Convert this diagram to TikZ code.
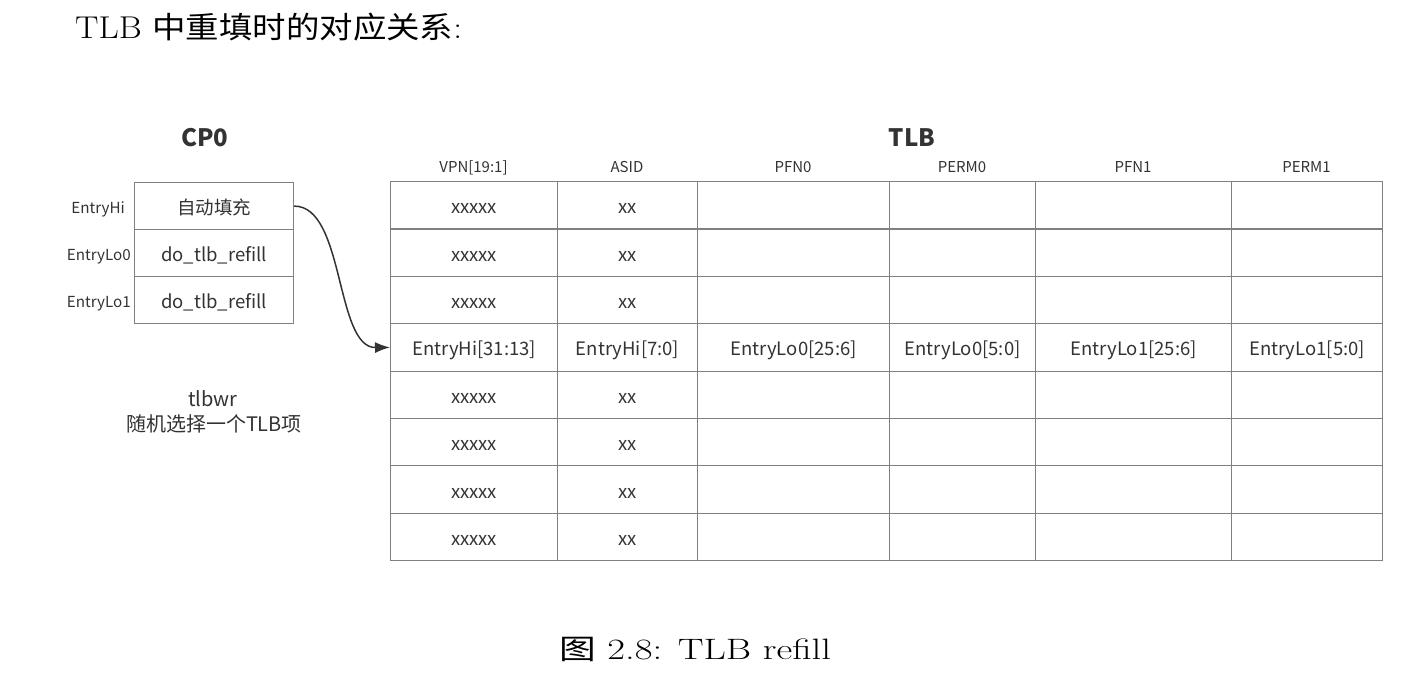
\documentclass[tikz,border=0pt]{standalone}
\usepackage{fontspec}
\usepackage{graphicx}
\usetikzlibrary{arrows.meta}
\newfontfamily\cjk{Noto Sans CJK SC}
\definecolor{ink}{HTML}{333333}
\definecolor{rule}{HTML}{808080}
\tikzset{
  cell/.style={draw=rule, line width=1.2pt, rectangle, inner sep=0pt, anchor=north west},
  celltext/.style={text=ink, font=\cjk\fontsize{18.5}{22}\selectfont, inner sep=0pt,
    anchor=base, yshift=-8.5pt},
  side/.style={text=ink, font=\cjk\fontsize{15.2}{18}\selectfont, inner sep=0pt, anchor=base east},
  head/.style={text=ink, font=\cjk\fontsize{15}{18}\selectfont, inner sep=0pt, anchor=base},
  note/.style={text=ink, font=\cjk\fontsize{20}{24}\selectfont, inner sep=0pt, anchor=base},
  boldlabel/.style={text=ink, font=\cjk\bfseries\fontsize{24}{28}\selectfont, inner sep=0pt, anchor=base},
  serif/.style={text=black, inner sep=0pt},
}
\begin{document}
\begin{tikzpicture}[x=1pt,y=-1pt]
\useasboundingbox (0,0) rectangle (1416,699);

% heading line
\node[serif, anchor=base west] (title) at (75,38)
  {\resizebox{387pt}{\height}{\fontsize{31.5}{36}\selectfont TLB {\cjk\fontsize{30}{36}\selectfont 中重填时的对应关系}:}};

% CP0 registers
\node[boldlabel] (cp0) at (205,146) {CP0};
\node[cell, minimum width=159pt, minimum height=47pt] (c1) at (134,182) {};
\node[cell, minimum width=159pt, minimum height=47pt] (c2) at (134,229) {};
\node[cell, minimum width=159pt, minimum height=47pt] (c3) at (134,276) {};
\node[celltext] (c1t) at (c1.center) {自动填充};
\node[celltext] (c2t) at (c2.center) {do\_tlb\_refill};
\node[celltext] (c3t) at (c3.center) {do\_tlb\_refill};
\node[side] (l1) at (125,213.3) {EntryHi};
\node[side] (l2) at (131,260.3) {EntryLo0};
\node[side] (l3) at (131,307.3) {EntryLo1};

\node[note] (wr1) at (213,406) {tlbwr};
\node[note] (wr2) at (214,431.7) {随机选择一个TLB项};

% TLB table
\node[boldlabel] (tlb) at (912,146) {TLB};
\foreach \x/\w/\h [count=\c] in {390/167/VPN[19:1], 557/140/ASID, 697/192/PFN0, 889/146/PERM0, 1035/196/PFN1, 1231/151/PERM1}{
  \node[head] (h\c) at ({\x+\w/2},172.5) {\h};
  \foreach \r in {1,...,8}{
    \node[cell, minimum width=\w pt, minimum height=47.375pt] (t\r-\c) at (\x,{181+(\r-1)*47.375}) {};
  }
}
\foreach \r in {1,2,3,5,6,7,8}{
  \node[celltext] (vx\r) at (t\r-1.center) {xxxxx};
  \node[celltext] (ax\r) at (t\r-2.center) {xx};
}
\foreach \c/\t in {1/EntryHi[31:13], 2/EntryHi[7:0], 3/EntryLo0[25:6], 4/EntryLo0[5:0], 5/EntryLo1[25:6], 6/EntryLo1[5:0]}{
  \node[celltext] (e\c) at (t4-\c.center) {\t};
}

% refill path
\draw[ink, line width=1.5pt, -{Latex[length=15pt,width=11pt]}]
  (c1.east) .. controls (345,206) and (335,348) .. (t4-1.west);

% caption
\node[serif, anchor=base] (cap) at (695,659)
  {\resizebox{272pt}{\height}{\fontsize{29.5}{34}\selectfont{\cjk\fontsize{28}{34}\selectfont 图} 2.8: TLB refill}};
\end{tikzpicture}
\end{document}
